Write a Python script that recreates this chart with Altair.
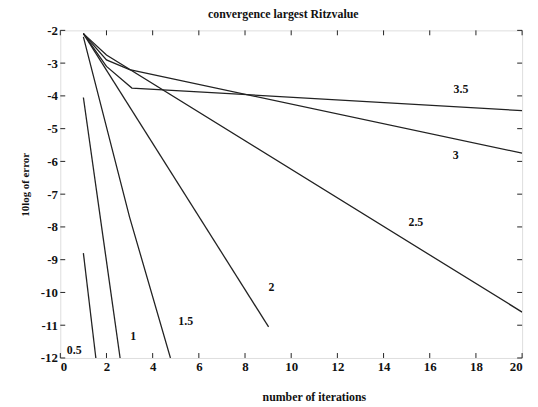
import altair as alt
import pandas as pd

# ---- data ----
s05_x = [1, 1.54]
s05_y = [-8.8, -12]
s1_x = [1, 2.59]
s1_y = [-4.05, -12]
s15_x = [1, 3, 4.77]
s15_y = [-2.2, -7.7, -12]
s2_x = [1, 9.02]
s2_y = [-2.1, -11.05]
s25_x = [1, 2, 20]
s25_y = [-2.1, -2.75, -10.6]
s3_x = [1, 2, 3, 20]
s3_y = [-2.1, -2.9, -3.2, -5.75]
s35_x = [1, 2, 3.1, 20]
s35_y = [-2.1, -3.1, -3.76, -4.45]

label_text = ["0.5", "1", "1.5", "2", "2.5", "3", "3.5"]
label_x = [0.6, 3.16, 5.43, 9.15, 15.4, 17.12, 17.35]
label_y = [-11.75, -11.33, -10.86, -9.83, -7.84, -5.8, -3.8]

x_ticks = [0, 2, 4, 6, 8, 10, 12, 14, 16, 18, 20]
y_ticks = [-12, -11, -10, -9, -8, -7, -6, -5, -4, -3, -2]

series = {
    "0.5": (s05_x, s05_y), "1": (s1_x, s1_y), "1.5": (s15_x, s15_y),
    "2": (s2_x, s2_y), "2.5": (s25_x, s25_y), "3": (s3_x, s3_y),
    "3.5": (s35_x, s35_y),
}
rows = []
for name, (xs_, ys_) in series.items():
    for i, (a, b) in enumerate(zip(xs_, ys_)):
        rows.append({"series": name, "x": a, "y": b, "i": i})
df = pd.DataFrame(rows)
lab = pd.DataFrame({"t": label_text, "x": label_x, "y": label_y})
xt = pd.DataFrame({"x": x_ticks})
yt = pd.DataFrame({"y": y_ticks})

W, H = 468, 332
FONT = "Liberation Serif"

xs = alt.Scale(domain=[0, 20], nice=False, zero=False)
ys = alt.Scale(domain=[-12, -2], nice=False, zero=False)

xaxis = alt.Axis(values=x_ticks, tickSize=0, domain=False, grid=False,
                 labelFont=FONT, labelFontWeight="bold", labelFontSize=13,
                 labelPadding=3, labelColor="#111", labelOverlap=False,
                 labelExpr="datum.value + ''",
                 title="number of iterations", titleFont=FONT,
                 titleFontWeight="bold", titleFontSize=12, titleX=257,
                 titlePadding=18, titleColor="#111")
yaxis = alt.Axis(values=y_ticks, tickSize=0, domain=False, grid=False,
                 labelFont=FONT, labelFontWeight="bold", labelFontSize=13,
                 labelPadding=3, labelColor="#111", labelOverlap=False,
                 labelExpr="datum.value + ''",
                 title="10log of error", titleFont=FONT,
                 titleFontWeight="bold", titleFontSize=11, titleY=156,
                 titlePadding=10, titleColor="#111")

X = lambda f: alt.X(f, scale=xs, axis=xaxis)
Y = lambda f: alt.Y(f, scale=ys, axis=yaxis)

lines = alt.Chart(df).mark_line(color="#222", strokeWidth=1.3, clip=True).encode(
    x=X("x:Q"), y=Y("y:Q"), detail="series:N", order="i:Q",
)

labels = alt.Chart(lab).mark_text(font=FONT, fontWeight="bold", fontSize=12,
                                  color="#111").encode(
    x=X("x:Q"), y=Y("y:Q"), text="t:N")

tb = alt.Chart(xt).mark_rule(color="#222", strokeWidth=1).encode(
    x=X("x:Q"), y=alt.value(H), y2=alt.value(H - 5))
tt = alt.Chart(xt).mark_rule(color="#222", strokeWidth=1).encode(
    x=X("x:Q"), y=alt.value(0), y2=alt.value(5))
tl = alt.Chart(yt).mark_rule(color="#222", strokeWidth=1).encode(
    y=Y("y:Q"), x=alt.value(0), x2=alt.value(5))
tr = alt.Chart(yt).mark_rule(color="#222", strokeWidth=1).encode(
    y=Y("y:Q"), x=alt.value(W), x2=alt.value(W - 5))

chart = alt.layer(lines, labels, tb, tt, tl, tr).properties(
    width=W, height=H,
    title=alt.TitleParams("convergence largest Ritzvalue", font=FONT,
                          fontWeight="bold", fontSize=12, color="#111",
                          offset=4, dx=-8),
    autosize=alt.AutoSizeParams(type="none"),
    padding={"left": 53, "top": 20, "right": 8, "bottom": 45},
).configure_view(stroke="#222", strokeWidth=1.2).configure(background="white")

chart.save("out.html", embed_options={"renderer": "svg", "actions": False})
